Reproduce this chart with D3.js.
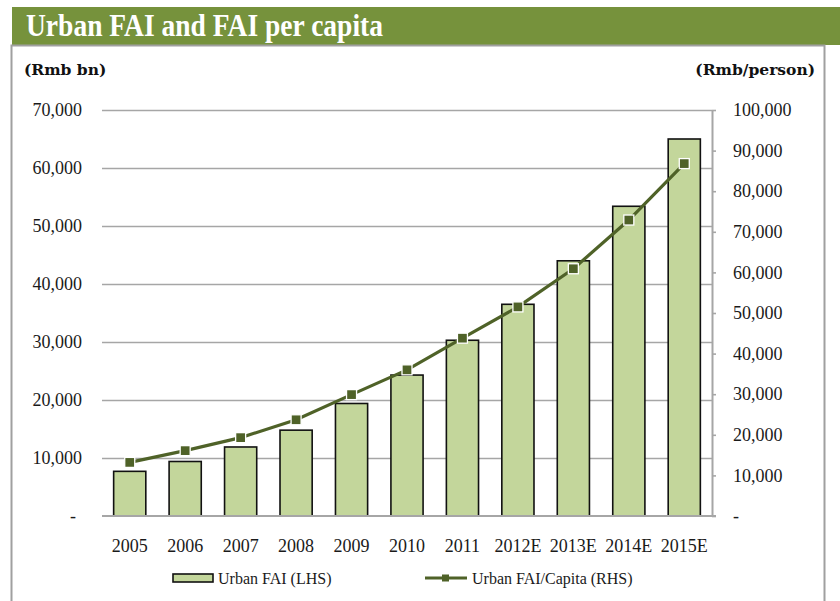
<!DOCTYPE html>
<html>
<head>
<meta charset="utf-8">
<script src="https://cdn.jsdelivr.net/npm/d3@7/dist/d3.min.js"></script>
<style>
  html, body { margin: 0; padding: 0; background: #fff; }
  svg { display: block; }
  .tick-label { font-family: "Liberation Serif", "Times New Roman", serif; font-size: 18px; fill: #1a1a1a; }
  .unit-label { font-family: "DejaVu Serif", serif; font-weight: bold; font-size: 15.5px; fill: #111; }
  .legend-label { font-family: "Liberation Serif", "Times New Roman", serif; font-size: 16px; fill: #1a1a1a; }
</style>
</head>
<body>
<svg id="chart" width="840" height="601"></svg>
<script>
// Urban fixed-asset investment (Rmb bn) and FAI per capita (Rmb/person)
const years = ["2005", "2006", "2007", "2008", "2009", "2010", "2011", "2012E", "2013E", "2014E", "2015E"];
const urbanFAI = [7700, 9400, 11900, 14800, 19400, 24300, 30300, 36500, 44000, 53400, 65000];
const faiPerCapita = [13200, 16100, 19300, 23700, 29900, 36000, 43800, 51500, 60900, 72900, 86800];
const leftTicks = [0, 10000, 20000, 30000, 40000, 50000, 60000, 70000];
const rightTicks = [0, 10000, 20000, 30000, 40000, 50000, 60000, 70000, 80000, 90000, 100000];
const seriesNames = ["Urban FAI (LHS)", "Urban FAI/Capita (RHS)"];
const titleText = "Urban FAI and FAI per capita";

const barFill = "#C3D69B";
const lineColor = "#4F6228";
const bandColor = "#76923C";
const gridColor = "#A6A6A6";

const svg = d3.select("#chart");

// Plot geometry
const plotLeft = 102, plotRight = 712, plotTop = 110, plotBottom = 516;

const x = d3.scaleBand().domain(years).range([plotLeft, plotRight])
  .paddingInner(0.42).paddingOuter(0.21);
const yL = d3.scaleLinear().domain([0, 70000]).range([plotBottom, plotTop]);
const yR = d3.scaleLinear().domain([0, 100000]).range([plotBottom, plotTop]);

const fmt = v => v === 0 ? "-" : d3.format(",")(v);

// Title band and frame
svg.append("rect").attr("x", 12).attr("y", 7).attr("width", 828).attr("height", 38).attr("fill", bandColor);
svg.append("text").attr("x", 26).attr("y", 36)
  .attr("textLength", 357).attr("lengthAdjust", "spacingAndGlyphs")
  .style("font-family", "'Liberation Serif', 'Times New Roman', serif")
  .style("font-weight", "bold").style("font-size", "31px").style("fill", "#fff")
  .text(titleText);
svg.append("path")
  .attr("d", "M11.5,601 V45.5 H824.5 V601")
  .attr("fill", "none").attr("stroke", "#A0A0A0").attr("stroke-width", 2);

// Units
svg.append("text").attr("class", "unit-label").attr("x", 24).attr("y", 75).text("(Rmb bn)");
svg.append("text").attr("class", "unit-label").attr("x", 815).attr("y", 75)
  .attr("text-anchor", "end").text("(Rmb/person)");

// Left axis: gridlines and labels
const leftAxis = d3.axisLeft(yL).tickValues(leftTicks).tickFormat(fmt)
  .tickSize(plotLeft - plotRight).tickPadding(20);
const gL = svg.append("g").attr("transform", `translate(${plotLeft},0)`).call(leftAxis);
gL.select(".domain").remove();
gL.selectAll(".tick line").attr("stroke", gridColor).attr("stroke-width", 1.6)
  .attr("x1", 0).attr("x2", plotRight - plotLeft);
gL.selectAll(".tick text").attr("class", "tick-label").attr("x", -20)
  .attr("dx", d => d === 0 ? "-6" : "0")
  .style("font-family", null).style("font-size", null).attr("font-family", null).attr("font-size", null);
gL.selectAll(".tick").filter(d => d === 0).select("line").remove();

// Bars
svg.append("g").selectAll("rect").data(years).join("rect")
  .attr("x", d => x(d))
  .attr("width", x.bandwidth())
  .attr("y", (d, i) => yL(urbanFAI[i]))
  .attr("height", (d, i) => plotBottom - yL(urbanFAI[i]))
  .attr("fill", barFill).attr("stroke", "#111").attr("stroke-width", 1.6);

// Right axis
const rightAxis = d3.axisRight(yR).tickValues(rightTicks).tickFormat(fmt)
  .tickSize(4).tickPadding(17).tickSizeOuter(0);
const gR = svg.append("g").attr("transform", `translate(${plotRight},0)`).call(rightAxis);
gR.select(".domain").attr("stroke", gridColor).attr("stroke-width", 2);
gR.selectAll(".tick line").attr("stroke", gridColor).attr("stroke-width", 1.6);
gR.selectAll(".tick text").attr("class", "tick-label").attr("x", 21)
  .attr("font-family", null).attr("font-size", null);

// Baseline
svg.append("line").attr("x1", plotLeft).attr("x2", plotRight + 4)
  .attr("y1", plotBottom).attr("y2", plotBottom)
  .attr("stroke", gridColor).attr("stroke-width", 2.2);

// Category labels
const xAxis = d3.axisBottom(x).tickSize(0).tickPadding(23);
const gX = svg.append("g").attr("transform", `translate(0,${plotBottom})`).call(xAxis);
gX.select(".domain").remove();
gX.selectAll(".tick text").attr("class", "tick-label").attr("font-family", null).attr("font-size", null);

// Per-capita line with square markers
const cx = d => x(d) + x.bandwidth() / 2;
const line = d3.line().x((d, i) => cx(years[i])).y(d => yR(d));
svg.append("path").datum(faiPerCapita).attr("d", line)
  .attr("fill", "none").attr("stroke", lineColor).attr("stroke-width", 3.2);
const ms = 10;
svg.append("g").selectAll("rect").data(faiPerCapita).join("rect")
  .attr("x", (d, i) => cx(years[i]) - ms / 2)
  .attr("y", d => yR(d) - ms / 2)
  .attr("width", ms).attr("height", ms)
  .attr("fill", lineColor).attr("stroke", "#fff").attr("stroke-width", 1.3);

// Legend
const lg = svg.append("g");
lg.append("rect").attr("x", 173).attr("y", 574).attr("width", 40).attr("height", 8)
  .attr("fill", barFill).attr("stroke", "#111").attr("stroke-width", 1.6);
lg.append("text").attr("class", "legend-label").attr("x", 218).attr("y", 584).text(seriesNames[0]);
lg.append("line").attr("x1", 425).attr("x2", 467).attr("y1", 578).attr("y2", 578)
  .attr("stroke", lineColor).attr("stroke-width", 3.2);
lg.append("rect").attr("x", 442).attr("y", 574.5).attr("width", 7).attr("height", 7).attr("fill", lineColor);
lg.append("text").attr("class", "legend-label").attr("x", 472).attr("y", 584).text(seriesNames[1]);
</script>
</body>
</html>
